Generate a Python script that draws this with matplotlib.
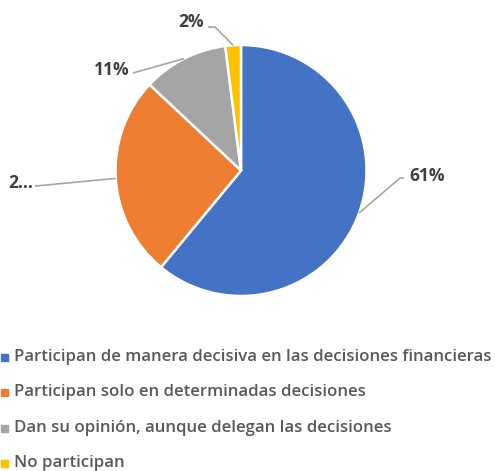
import matplotlib
matplotlib.use("Agg")
import matplotlib.pyplot as plt
import numpy as np
from matplotlib.patches import Rectangle

categories = [
    "Participan de manera decisiva en las decisiones financieras",
    "Participan solo en determinadas decisiones",
    "Dan su opinión, aunque delegan las decisiones",
    "No participan",
]
values = [61, 26, 11, 2]
labels = ["61%", "2...", "11%", "2%"]
colors = ["#4472C4", "#ED7D31", "#A5A5A5", "#FFC000"]

# label anchor (elbow, end, text position) in data units, pie radius = 1
label_layout = [
    dict(elbow=(1.267, -0.06), end=(1.30, -0.06), text=(1.34, -0.045), ha="left"),
    dict(elbow=None, end=(-1.641, -0.124), text=(-1.66, -0.10), ha="right"),
    dict(elbow=None, end=(-0.861, 0.777), text=(-0.89, 0.80), ha="right"),
    dict(elbow=(-0.207, 1.143), end=(-0.263, 1.143), text=(-0.30, 1.18), ha="right"),
]

W, H = 495, 471
cx, cy, r = 241, 170.5, 125.5

plt.rcParams["font.family"] = ["Open Sans", "DejaVu Sans"]
fig = plt.figure(figsize=(W / 100, H / 100), dpi=100)
ax = fig.add_axes([0, 0, 1, 1])

wedges, _ = ax.pie(
    values,
    colors=colors,
    startangle=90,
    counterclock=False,
    radius=1,
    wedgeprops=dict(edgecolor="white", linewidth=1.8),
)
ax.set_aspect("auto")
ax.set_xlim(-cx / r, (W - cx) / r)
ax.set_ylim(-(H - cy) / r, cy / r)
ax.axis("off")

total = sum(values)
cum = 0
for v, lab, lay in zip(values, labels, label_layout):
    mid = np.deg2rad(90 - (cum + v / 2) / total * 360)
    cum += v
    start = (np.cos(mid), np.sin(mid))
    pts = [start]
    if lay["elbow"] is not None:
        pts.append(lay["elbow"])
    pts.append(lay["end"])
    xs, ys = zip(*pts)
    ax.plot(xs, ys, color="#A6A6A6", linewidth=1.2, solid_capstyle="butt")
    ax.text(lay["text"][0], lay["text"][1], lab, ha=lay["ha"], va="center",
            fontsize=12.5, fontweight="bold", color="#404040")

legend_y = [357, 392, 428, 463]
for cat, col, y in zip(categories, colors, legend_y):
    fig.patches.append(Rectangle((1 / W, 1 - (y + 3.5) / H), 7 / W, 7 / H,
                                 transform=fig.transFigure, color=col))
    fig.text(14 / W, 1 - y / H, cat, ha="left", va="center",
             fontsize=12.1, fontweight="semibold", color="#595959")

fig.savefig("out.png", dpi=100)
